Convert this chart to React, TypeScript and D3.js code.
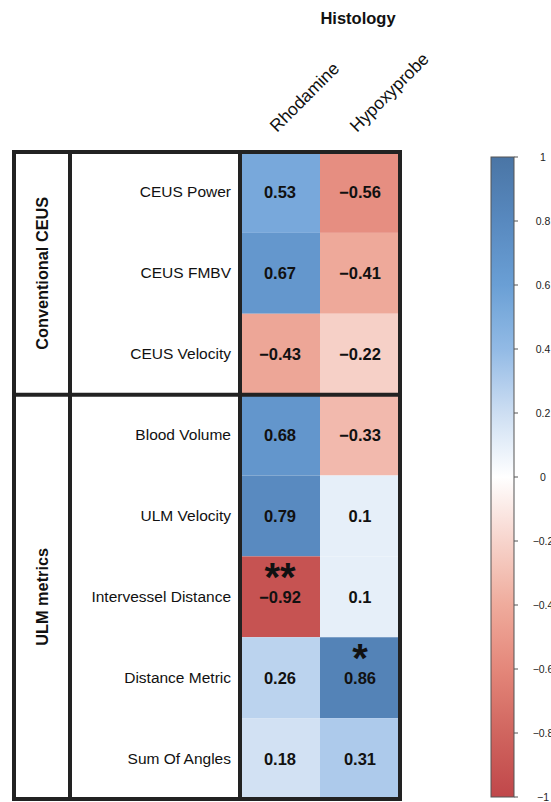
import React from 'react';
import * as d3 from 'd3';

const columns = ['Rhodamine', 'Hypoxyprobe'];
const rowLabels = [
  'CEUS Power', 'CEUS FMBV', 'CEUS Velocity',
  'Blood Volume', 'ULM Velocity', 'Intervessel Distance', 'Distance Metric', 'Sum Of Angles',
];
const groups = [
  { name: 'Conventional CEUS', start: 0, count: 3 },
  { name: 'ULM metrics', start: 3, count: 5 },
];
const rhodamine = [0.53, 0.67, -0.43, 0.68, 0.79, -0.92, 0.26, 0.18];
const hypoxyprobe = [-0.56, -0.41, -0.22, -0.33, 0.1, 0.1, 0.86, 0.31];
const rhodamineSig = ['', '', '', '', '', '**', '', ''];
const hypoxyprobeSig = ['', '', '', '', '', '', '*', ''];
const colorbarTicks = [1, 0.8, 0.6, 0.4, 0.2, 0, -0.2, -0.4, -0.6, -0.8, -1];

export default function App() {
  const width = 551;
  const height = 802;
  const top = 152;
  const bottom = 799;
  const left = 14;
  const groupRight = 70;
  const heatLeft = 240;
  const heatRight = 400;

  const values = [rhodamine, hypoxyprobe];
  const sigs = [rhodamineSig, hypoxyprobeSig];

  const y = d3.scaleBand<number>().domain(d3.range(rowLabels.length)).range([top, bottom]);
  const x = d3.scaleBand<string>().domain(columns).range([heatLeft, heatRight]);

  const color = d3.scaleLinear<string>()
    .domain([-1, -0.8, -0.6, -0.4, -0.2, 0, 0.2, 0.4, 0.6, 0.8, 1])
    .range(['#c0474a', '#d0655f', '#e4877a', '#efab9c', '#f7d4cc', '#ffffff', '#cddef2', '#92bae5', '#6a9fd5', '#5889bf', '#4a75a5'])
    .clamp(true);

  const fmt = d3.format('');
  const cb = { x: 491, w: 23, top: 157, bottom: 797 };
  const cbY = d3.scaleLinear().domain([1, -1]).range([cb.top, cb.bottom]);
  const stops = d3.range(0, 1.0001, 0.05);

  const font = 'Liberation Sans, Arial, Helvetica, sans-serif';
  const stroke = '#222';
  const bw = 4;

  return (
    <svg width={width} height={height} style={{ position: 'absolute', left: 0, top: 0, background: '#fff' }} fontFamily={font}>
      <defs>
        <linearGradient id="cbar" x1="0" y1="0" x2="0" y2="1">
          {stops.map(t => (
            <stop key={t} offset={t} stopColor={color(1 - 2 * t)} />
          ))}
        </linearGradient>
      </defs>

      <text x={358} y={24} textAnchor="middle" fontSize={16.5} fontWeight="bold" fill="#111">Histology</text>

      {columns.map(c => {
        const cx = x(c)! + x.bandwidth() / 2 - 3;
        return (
          <text key={c} transform={`translate(${cx},${133}) rotate(-45)`} fontSize={17.5} fill="#111">{c}</text>
        );
      })}

      {columns.map((c, ci) => rowLabels.map((_, ri) => (
        <rect key={`${c}-${ri}`} x={x(c)} y={y(ri)} width={x.bandwidth()} height={y.bandwidth()} fill={color(values[ci][ri])} />
      )))}

      {columns.map((c, ci) => rowLabels.map((_, ri) => {
        const cx = x(c)! + x.bandwidth() / 2;
        const cy = y(ri)! + y.bandwidth() / 2;
        const v = values[ci][ri];
        const s = sigs[ci][ri];
        return (
          <g key={`t-${c}-${ri}`}>
            {s && (
              <text x={cx} y={cy - 6} textAnchor="middle" fontSize={40} fontWeight="bold" fill="#111">{s}</text>
            )}
            <text x={cx} y={cy + 6} textAnchor="middle" fontSize={16.5} fontWeight="bold" fill="#111">{fmt(v)}</text>
          </g>
        );
      }))}

      {rowLabels.map((r, ri) => (
        <text key={r} x={231} y={y(ri)! + y.bandwidth() / 2 + 5} textAnchor="end" fontSize={15.5} fill="#111">{r}</text>
      ))}

      {groups.map(g => {
        const gy = y(g.start)! + (g.count * y.bandwidth()) / 2;
        return (
          <text key={g.name} transform={`translate(${(left + groupRight) / 2 + 6},${gy}) rotate(-90)`} textAnchor="middle" fontSize={16.3} fontWeight="bold" fill="#111">{g.name}</text>
        );
      })}

      <rect x={left} y={top} width={heatRight - left} height={bottom - top} fill="none" stroke={stroke} strokeWidth={bw} />
      <line x1={groupRight} x2={groupRight} y1={top} y2={bottom} stroke={stroke} strokeWidth={bw} />
      <line x1={heatLeft} x2={heatLeft} y1={top} y2={bottom} stroke={stroke} strokeWidth={bw} />
      {groups.slice(1).map(g => (
        <line key={g.name} x1={left} x2={heatRight} y1={y(g.start)} y2={y(g.start)} stroke={stroke} strokeWidth={bw} />
      ))}

      <rect x={cb.x} y={cb.top} width={cb.w} height={cb.bottom - cb.top} fill="url(#cbar)" stroke="#555" strokeWidth={1} />
      {colorbarTicks.map(t => (
        <g key={t}>
          <line x1={cb.x + cb.w} x2={cb.x + cb.w + 4} y1={cbY(t)} y2={cbY(t)} stroke="#555" strokeWidth={1} />
          <text x={543} y={cbY(t) + 4} textAnchor="middle" fontSize={10.5} fill="#222">{fmt(t)}</text>
        </g>
      ))}
    </svg>
  );
}
